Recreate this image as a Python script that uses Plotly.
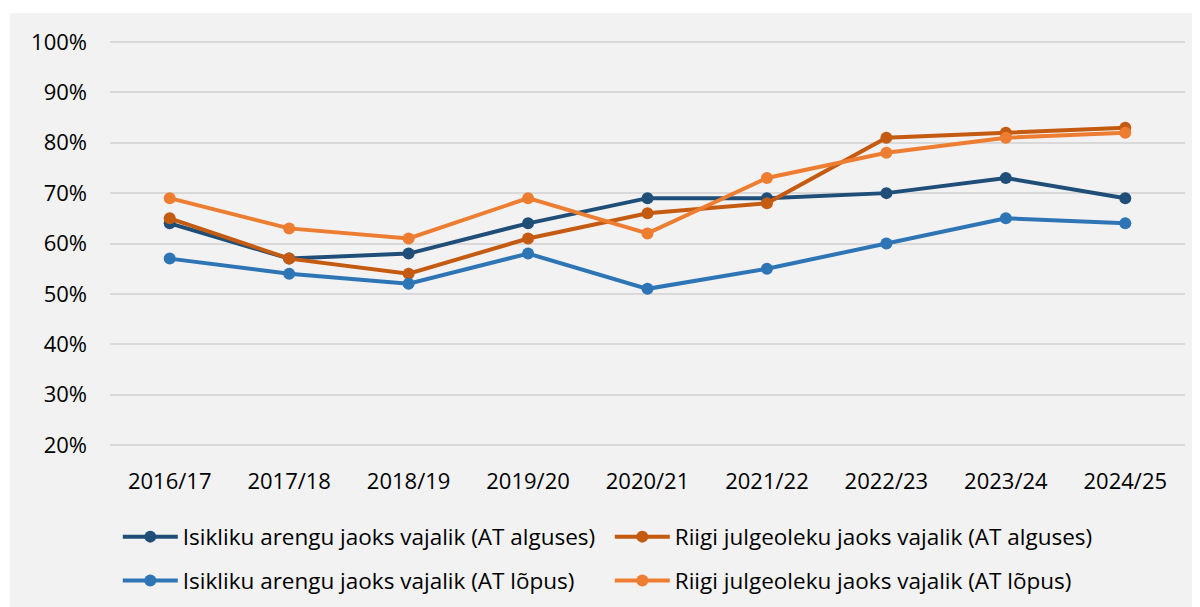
import plotly.graph_objects as go

categories = ["2016/17", "2017/18", "2018/19", "2019/20", "2020/21", "2021/22", "2022/23", "2023/24", "2024/25"]
series_names = [
    "Isikliku arengu jaoks vajalik (AT alguses)",
    "Riigi julgeoleku jaoks vajalik (AT alguses)",
    "Isikliku arengu jaoks vajalik (AT lõpus)",
    "Riigi julgeoleku jaoks vajalik (AT lõpus)",
]
isiklik_algus = [64, 57, 58, 64, 69, 69, 70, 73, 69]
riigi_algus = [65, 57, 54, 61, 66, 68, 81, 82, 83]
isiklik_lopus = [57, 54, 52, 58, 51, 55, 60, 65, 64]
riigi_lopus = [69, 63, 61, 69, 62, 73, 78, 81, 82]
y_ticks = [20, 30, 40, 50, 60, 70, 80, 90, 100]
y_tick_labels = ["20%", "30%", "40%", "50%", "60%", "70%", "80%", "90%", "100%"]

colors = ["#1f4e79", "#c55a11", "#2e75b6", "#ed7d31"]
values = [isiklik_algus, riigi_algus, isiklik_lopus, riigi_lopus]
legend_ids = ["legend", "legend", "legend2", "legend2"]

FONT = "Open Sans, Noto Sans, sans-serif"

fig = go.Figure()
for name, vals, col, lg in zip(series_names, values, colors, legend_ids):
    fig.add_trace(go.Scatter(
        x=categories, y=vals, name=name, mode="lines+markers",
        line=dict(color=col, width=4),
        marker=dict(color=col, size=12),
        legend=lg,
    ))

legend_common = dict(
    orientation="h", xref="container", yref="container",
    x=0.0915, xanchor="left", yanchor="middle",
    entrywidth=422, itemwidth=55,
    font=dict(size=22.5, family=FONT, color="#000000"),
    bgcolor="rgba(0,0,0,0)", traceorder="normal",
)

fig.update_layout(
    width=1200, height=607,
    margin=dict(l=102, r=23, t=33, b=169),
    paper_bgcolor="white",
    plot_bgcolor="rgba(0,0,0,0)",
    font=dict(family=FONT, size=22, color="#000000"),
    showlegend=True,
    legend=dict(legend_common, y=0.1285),
    legend2=dict(legend_common, y=0.0562),
    shapes=[dict(
        type="rect", xref="paper", yref="paper",
        x0=-0.093, x1=1.05, y0=-0.5, y1=1.069,
        fillcolor="#f2f2f2", line=dict(width=0), layer="below",
    )],
)
fig.update_xaxes(
    type="category", range=[-0.5, 8.5], showgrid=False, zeroline=False,
    showline=False, ticks="", ticklabelstandoff=20,
    tickfont=dict(size=22, family=FONT),
)
fig.update_yaxes(
    range=[19.8, 100.2], tickvals=y_ticks, ticktext=y_tick_labels,
    showgrid=True, gridcolor="#d9d9d9", gridwidth=2, zeroline=False,
    showline=False, ticks="", ticklabelstandoff=22,
    tickfont=dict(size=22, family=FONT),
)

fig.write_html("out.html")
